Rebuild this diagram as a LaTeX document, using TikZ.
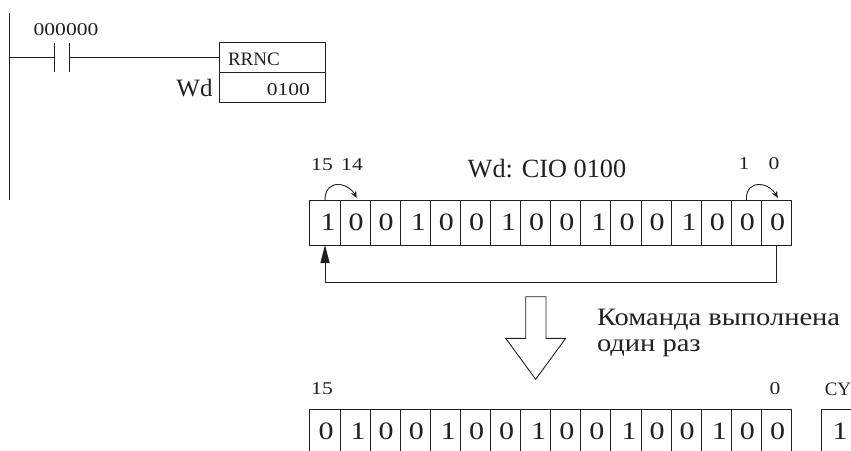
\documentclass[tikz,border=0pt]{standalone}
\usepackage{fontspec}
\setmainfont{Liberation Serif}
\newfontfamily\widefont[FakeStretch=1.2]{Liberation Serif}
\newfontfamily\cmdfont[FakeStretch=1.14]{Liberation Serif}
\newcommand{\dgt}[1]{\ifnum#1=1 \hspace*{6pt}\else\hspace*{2pt}\fi #1}
\usetikzlibrary{arrows.meta}
\definecolor{ink}{HTML}{231F20}
\tikzset{
  x=1pt,y=-1pt,
  wire/.style={draw=ink,line width=0.9pt},
  cell/.style={draw=ink,line width=1pt,minimum width=30.1pt,minimum height=45pt,inner sep=0pt,outer sep=0pt,font=\widefont\fontsize{25}{25}\selectfont,text=ink},
  lbl/.style={inner sep=0pt,outer sep=0pt,text=ink,font=\widefont\fontsize{18}{18}\selectfont},
  lblp/.style={lbl,font=\fontsize{19}{19}\selectfont},
  lblb/.style={lbl,font=\fontsize{25}{25}\selectfont},
  lblt/.style={lbl,font=\fontsize{26.3}{26.3}\selectfont},
  lblc/.style={lbl,font=\cmdfont\fontsize{25}{25}\selectfont},
  fbox/.style={draw=ink,line width=0.9pt,minimum width=105.5pt,inner sep=0pt,outer sep=0pt},
  bentarrow/.style={draw=ink,line width=0.9pt,-{Stealth[length=7pt,width=6pt]}},
}
\begin{document}
\begin{tikzpicture}
\useasboundingbox (0,0) rectangle (851,450);
\clip (0,0) rectangle (851,450);
% ladder
\coordinate (railtop) at (9,13);
\coordinate (railbot) at (9,200);
\coordinate (railtap) at (9,57.5);
\draw[wire] (railtop) -- (railbot);
\coordinate (c1t) at (54,43); \coordinate (c1b) at (54,72); \coordinate (c1m) at (54,57.5);
\coordinate (c2t) at (69.5,43); \coordinate (c2b) at (69.5,72); \coordinate (c2m) at (69.5,57.5);
\draw[wire] (c1t) -- (c1b);
\draw[wire] (c2t) -- (c2b);
\draw[wire] (railtap) -- (c1m);
\node[lbl,anchor=center] (contact) at (66,29.5) {000000};
% function block
\node[fbox,minimum height=30pt,anchor=north west,align=left] (rrnc) at (219.5,42.5) {};
\node[fbox,minimum height=30pt,anchor=north west] (wdbox) at (219.5,72.5) {};
\draw[draw=ink,line width=1.4pt] (rrnc.south west) -- (rrnc.south east);
\draw[wire] (c2m) -- (c2m -| rrnc.west);
\node[lblp,anchor=west] (rrnctext) at (228,59) {RRNC};
\node[lbl,anchor=east] (wdval) at (310,89.5) {0100};
\node[lblb,anchor=east] (wdlab) at (212.5,88) {Wd};
% top register
\foreach \i/\v in {0/1,1/0,2/0,3/1,4/0,5/0,6/1,7/0,8/0,9/1,10/0,11/0,12/1,13/0,14/0,15/0}{
  \node[cell] (a\i) at ({325+30.1*\i},222.5) {\dgt{\v}};
}
\foreach \i/\v in {0/0,1/1,2/0,3/0,4/1,5/0,6/0,7/1,8/0,9/0,10/1,11/0,12/0,13/1,14/0,15/0}{
  \node[cell] (b\i) at ({325+30.1*\i},431.5) {\dgt{\v}};
}
\node[cell] (cy) at (837,431.5) {\dgt{1}};
% labels
\node[lbl] (l15) at (322,165) {15};
\node[lbl] (l14) at (352,165) {14};
\node[lbl] (l1) at (744,164) {1};
\node[lbl] (l0) at (774,164) {0};
\node[lblt] (title) at (547,169) {Wd: CIO 0100};
\node[lbl] (m15) at (322,389) {15};
\node[lbl] (m0) at (775,389) {0};
\node[lblp] (mcy) at (838,389) {CY};
% bent arrows
\coordinate (ae) at (356.7,198);
\coordinate (be) at (777.7,198);
\draw[bentarrow] (a0.north) .. controls (325,189) and (331,184) .. (339,184.5) .. controls (347,185) and (353,191) .. (ae);
\draw[bentarrow] (a14.north) .. controls (746,189) and (752,184) .. (760,184.5) .. controls (768,185) and (774,191) .. (be);
% feedback
\coordinate (fbr) at ([yshift=-37pt]a15.south);
\coordinate (fbl) at (a0.south |- fbr);
\coordinate (tipb) at (325,263);
\draw[wire] (a15.south) -- (fbr) -- (fbl) -- (tipb);
\fill[ink] (a0.south) -- (320.3,263) -- (329.7,263) -- cycle;
% big arrow
\draw[draw=ink,line width=0.9pt,fill=white,line join=miter]
  (525.7,296.7) -- (546,296.7) -- (546,338.3) -- (565.7,338.3) -- (535.7,379.3) -- (505.7,338.3) -- (525.7,338.3) -- cycle;
\node[lblc,anchor=west] (cmd1) at (597,319.5) {Команда выполнена};
\node[lblc,anchor=west] (cmd2) at (597,348) {один раз};
\end{tikzpicture}
\end{document}
